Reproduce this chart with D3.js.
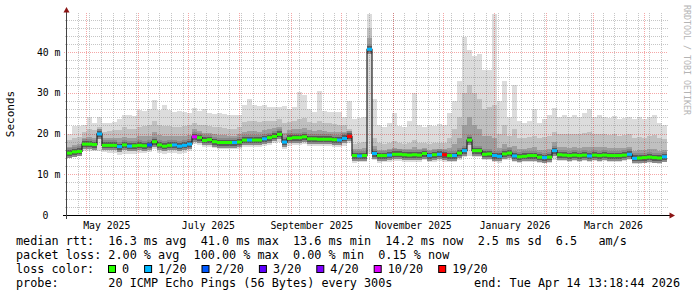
<!DOCTYPE html>
<html>
<head>
<meta charset="utf-8">
<script src="https://cdn.jsdelivr.net/npm/d3@7"></script>
<style>
  body { margin: 0; background: #fff; }
  svg { display: block; }
  text { font-family: "DejaVu Sans Mono", monospace; fill: #000; }
</style>
</head>
<body>
<svg id="chart" width="697" height="297"></svg>
<script>
// smokeping year view, one column per 3 days
const DAY = 864e5;
const tEnd = Date.UTC(2026, 3, 14, 13, 18, 44);
const tStart = tEnd - 360 * DAY;
const stepDays = 3;

// median rtt (ms)
const median = [
  15.2, 15.5, 15.6, 17.4, 17.4, 17.3, 19.9, 17.1, 17.1, 17.1,
  16.8, 17.2, 16.9, 17.0, 17.1, 17.0, 17.2, 18.0, 17.2, 16.9,
  17.1, 17.2, 16.9, 17.1, 17.4, 19.2, 19.0, 18.3, 18.5, 18.0,
  17.8, 17.8, 17.8, 17.8, 17.9, 18.4, 18.4, 18.4, 18.4, 18.7,
  19.0, 19.3, 19.8, 17.9, 18.8, 19.0, 19.0, 19.2, 18.7, 18.7,
  18.6, 18.6, 18.6, 18.5, 18.4, 18.8, 19.3, 14.6, 14.5, 14.6,
  40.7, 15.1, 14.6, 14.6, 14.7, 14.9, 14.9, 14.8, 14.7, 14.8,
  14.7, 15.1, 14.6, 14.8, 14.9, 14.8, 14.6, 14.6, 15.2, 15.8,
  18.4, 15.8, 15.8, 14.9, 15.0, 14.6, 14.4, 15.0, 15.2, 14.5,
  14.3, 14.4, 14.6, 14.6, 14.2, 14.1, 14.2, 15.8, 14.8, 14.7,
  14.6, 14.7, 14.6, 14.7, 14.5, 14.7, 14.6, 14.7, 14.6, 14.6,
  14.6, 14.7, 14.9, 13.9, 14.0, 14.1, 14.2, 14.1, 14.0, 14.3
];

// lost pings out of 20
const lossCount = [
  0, 0, 0, 0, 0, 0, 1, 0, 0, 0,
  1, 0, 1, 0, 0, 0, 2, 0, 0, 0,
  0, 1, 1, 1, 1, 10, 0, 0, 0, 0,
  0, 0, 0, 1, 0, 0, 1, 0, 0, 1,
  0, 0, 0, 1, 0, 0, 0, 0, 0, 0,
  0, 0, 0, 0, 1, 1, 19, 0, 1, 0,
  1, 1, 0, 0, 1, 0, 0, 0, 0, 0,
  0, 0, 1, 0, 1, 19, 0, 1, 0, 1,
  0, 0, 0, 0, 0, 1, 1, 0, 0, 1,
  0, 0, 0, 0, 0, 1, 0, 1, 0, 0,
  0, 0, 0, 0, 1, 0, 0, 0, 0, 0,
  0, 0, 1, 1, 0, 0, 0, 0, 0, 1
];

// fastest ping
const pingMin = [
  14.0, 14.2, 14.4, 15.6, 15.6, 15.6, 15.8, 15.4, 15.3, 15.2,
  14.8, 15.0, 15.0, 15.0, 15.2, 15.2, 15.4, 16.2, 15.3, 15.0,
  15.2, 15.3, 15.0, 15.2, 15.6, 17.4, 17.2, 16.6, 16.8, 16.4,
  16.2, 16.2, 16.2, 16.2, 16.3, 16.8, 16.8, 16.8, 16.8, 17.0,
  17.3, 17.6, 18.0, 16.2, 17.0, 17.2, 17.2, 17.4, 17.0, 17.0,
  16.9, 16.9, 16.9, 16.8, 16.7, 17.0, 17.8, 12.8, 12.9, 13.0,
  15.0, 13.4, 12.8, 12.9, 13.0, 13.2, 13.2, 13.1, 13.0, 13.1,
  13.0, 13.4, 13.0, 13.1, 13.2, 13.1, 13.0, 13.0, 13.6, 14.2,
  14.4, 14.2, 14.2, 13.4, 13.4, 13.0, 12.8, 13.4, 13.6, 12.9,
  12.8, 12.9, 13.1, 13.1, 12.8, 12.7, 12.8, 13.6, 13.3, 13.2,
  13.1, 13.2, 13.1, 13.2, 13.0, 13.2, 13.1, 13.2, 13.1, 13.1,
  13.1, 13.2, 13.4, 12.6, 12.6, 12.8, 12.8, 12.7, 12.6, 12.9
];

// upper quartile
const ping75 = [
  16.8, 17.2, 17.4, 19.0, 19.2, 19.0, 20.5, 18.8, 18.8, 18.9,
  18.8, 19.2, 19.0, 19.0, 19.3, 19.3, 19.5, 20.3, 19.6, 19.3,
  19.4, 19.5, 19.3, 19.5, 19.6, 21.0, 20.6, 20.2, 20.2, 19.8,
  19.6, 19.6, 19.5, 19.5, 19.8, 20.5, 20.6, 20.6, 20.5, 20.8,
  21.0, 21.3, 21.6, 20.2, 20.8, 21.0, 21.2, 21.4, 20.8, 20.6,
  20.8, 20.6, 20.5, 20.4, 20.3, 20.5, 20.0, 16.2, 16.2, 16.4,
  43.5, 17.0, 16.0, 16.0, 16.2, 16.4, 16.2, 16.1, 16.2, 16.6,
  16.1, 16.4, 16.0, 16.2, 16.3, 16.2, 16.5, 17.5, 19.0, 22.0,
  24.0, 22.0, 21.0, 19.5, 19.5, 19.0, 16.5, 17.5, 16.8, 17.0,
  16.2, 16.2, 16.4, 16.6, 16.0, 16.0, 16.2, 18.0, 16.6, 16.6,
  16.5, 16.6, 16.5, 16.7, 16.8, 16.6, 16.6, 16.6, 16.4, 16.5,
  16.4, 16.5, 16.8, 15.8, 16.0, 16.0, 16.2, 16.2, 15.8, 16.0
];

// 90th percentile
const ping90 = [
  18.5, 19.0, 19.2, 20.5, 21.0, 20.8, 21.5, 20.5, 20.6, 20.8,
  20.8, 21.5, 21.2, 21.0, 21.5, 21.8, 22.0, 23.0, 22.0, 21.8,
  21.8, 21.5, 21.6, 21.8, 22.0, 22.5, 22.2, 22.0, 21.8, 21.5,
  21.5, 21.3, 21.2, 21.0, 21.5, 22.8, 23.0, 23.0, 22.8, 23.2,
  23.0, 23.2, 23.5, 22.5, 22.8, 23.0, 23.5, 23.8, 22.8, 22.5,
  23.0, 22.5, 22.5, 22.4, 22.2, 22.0, 21.0, 17.5, 17.8, 18.0,
  46.0, 19.0, 17.6, 17.4, 17.8, 18.2, 17.6, 17.5, 17.8, 18.5,
  17.6, 17.8, 17.5, 17.6, 17.8, 17.8, 19.0, 21.0, 24.0, 30.0,
  32.0, 30.0, 28.5, 26.0, 26.5, 27.0, 20.0, 22.0, 19.5, 21.0,
  19.0, 19.0, 19.2, 19.5, 19.0, 19.2, 19.5, 20.5, 19.8, 20.0,
  19.8, 20.0, 19.8, 20.2, 20.5, 19.8, 20.0, 19.8, 19.6, 19.8,
  19.5, 19.6, 19.8, 19.0, 19.2, 19.0, 19.4, 19.6, 18.8, 18.6
];

// slowest ping
const pingMax = [
  20.0, 21.9, 21.8, 22.0, 24.0, 22.5, 24.0, 22.6, 22.7, 22.8,
  23.5, 24.6, 24.6, 24.2, 25.8, 25.5, 26.0, 28.2, 25.8, 27.0,
  25.8, 25.4, 25.6, 25.4, 25.0, 26.2, 25.5, 26.0, 25.0, 24.8,
  25.0, 24.8, 24.6, 24.6, 24.6, 27.0, 28.5, 27.0, 26.8, 27.0,
  26.6, 26.6, 26.4, 26.8, 26.0, 26.6, 30.3, 29.5, 26.0, 25.4,
  30.5, 25.6, 25.4, 25.2, 25.4, 24.0, 28.0, 23.5, 23.8, 24.0,
  49.3, 28.5, 22.0, 21.6, 22.5, 25.0, 21.8, 21.6, 23.0, 30.0,
  22.0, 21.6, 22.0, 21.8, 22.4, 22.0, 25.0, 28.0, 33.0, 43.8,
  40.5, 39.0, 39.5, 35.5, 35.5, 49.3, 28.0, 33.0, 24.0, 32.0,
  23.0, 22.5, 23.0, 26.0, 22.5, 23.5, 24.5, 26.3, 24.0, 24.5,
  24.0, 24.5, 24.0, 25.0, 26.0, 24.0, 24.5, 24.0, 23.8, 24.2,
  23.6, 23.8, 24.0, 23.5, 24.0, 23.5, 24.0, 24.5, 22.5, 22.0
];

const yTicks = [0, 10, 20, 30, 40];
const yTickLabels = ["0", "10 m", "20 m", "30 m", "40 m"];

const lossLevels = [0, 1, 2, 3, 4, 10, 19];
const lossLabels = ["0", "1/20", "2/20", "3/20", "4/20", "10/20", "19/20"];
const lossColors = ["#26ff00", "#00b8ff", "#0059ff", "#5e00ff", "#7e00ff", "#dd00ff", "#ff0000"];

const rttStats = ["16.3 ms avg", "41.0 ms max", "13.6 ms min", "14.2 ms now", "2.5 ms sd", "6.5   am/s"];
const lossStats = ["2.00 % avg", "100.00 % max", "0.00 % min", "0.15 % now"];
const probeText = "20 ICMP Echo Pings (56 Bytes) every 300s";
const endText = "end: Tue Apr 14 13:18:44 2026";

const svg = d3.select("#chart");
const x = d3.scaleUtc().domain([tStart, tEnd]).range([67, 667]);
const y = d3.scaleLinear().domain([0, 49.6]).range([215, 13]);
const lossColor = d3.scaleThreshold().domain(lossLevels.slice(1)).range(lossColors);

const cols = median.map((m, i) => ({
  t0: new Date(tStart + i * stepDays * DAY),
  t1: new Date(tStart + (i + 1) * stepDays * DAY),
  med: m, loss: lossCount[i], lo: pingMin[i], p75: ping75[i], p90: ping90[i], hi: pingMax[i]
}));

// smoke
const smoke = svg.append("g").attr("shape-rendering", "crispEdges");
const bands = [
  { lo: d => d.lo, hi: d => d.hi, color: "#dcdcdc" },
  { lo: d => d.med, hi: d => d.p90, color: "#c0c0c0" },
  { lo: d => d.med, hi: d => d.p75, color: "#9e9e9e" }
];
bands.forEach(b => {
  smoke.append("g").selectAll("rect").data(cols).join("rect")
    .attr("x", d => x(d.t0))
    .attr("width", d => x(d.t1) - x(d.t0))
    .attr("y", d => y(b.hi(d)))
    .attr("height", d => Math.max(0, y(b.lo(d)) - y(b.hi(d))))
    .attr("fill", b.color);
});
[[10, "#8a8a8a"], [6, "#5a5a5a"]].forEach(([h, c]) => {
  smoke.append("g").selectAll("rect").data(cols).join("rect")
    .attr("x", d => x(d.t0))
    .attr("width", d => x(d.t1) - x(d.t0))
    .attr("y", d => y(d.med) - h / 2)
    .attr("height", h)
    .attr("fill", c);
});

// grid
const grid = svg.append("g").attr("fill", "none").attr("stroke-dasharray", "1,1");
const minorY = d3.range(2, 49, 2).filter(v => v % 10 !== 0);
grid.selectAll(".hmin").data(minorY).join("line")
  .attr("x1", 65).attr("x2", 668)
  .attr("y1", d => Math.round(y(d)) + 0.5).attr("y2", d => Math.round(y(d)) + 0.5)
  .attr("stroke", "rgba(128,128,128,0.45)");
grid.selectAll(".vmin").data(d3.utcSaturday.range(new Date(tStart), new Date(tEnd))).join("line")
  .attr("x1", d => Math.round(x(d)) + 0.5).attr("x2", d => Math.round(x(d)) + 0.5)
  .attr("y1", 13).attr("y2", 217)
  .attr("stroke", "rgba(128,128,128,0.45)");
grid.selectAll(".hmaj").data(yTicks.slice(1)).join("line")
  .attr("x1", 64).attr("x2", 668)
  .attr("y1", d => Math.round(y(d)) + 0.5).attr("y2", d => Math.round(y(d)) + 0.5)
  .attr("stroke", "rgba(225,0,0,0.35)");
grid.selectAll(".vmaj").data(d3.utcMonth.range(new Date(tStart), new Date(tEnd))).join("line")
  .attr("x1", d => Math.round(x(d)) + 0.5).attr("x2", d => Math.round(x(d)) + 0.5)
  .attr("y1", 13).attr("y2", 217)
  .attr("stroke", "rgba(225,0,0,0.35)");

// median: dark step line, then loss-coloured pieces
const pts = cols.map(d => [d.t0, d.med]);
pts.push([cols[cols.length - 1].t1, cols[cols.length - 1].med]);
svg.append("path")
  .attr("d", d3.line().x(d => x(d[0])).y(d => y(d[1])).curve(d3.curveStepAfter)(pts))
  .attr("fill", "none").attr("stroke", "#202020").attr("stroke-width", 1.2);
svg.append("g").selectAll("line").data(cols).join("line")
  .attr("x1", d => x(d.t0)).attr("x2", d => x(d.t1))
  .attr("y1", d => y(d.med)).attr("y2", d => y(d.med))
  .attr("stroke", d => lossColor(d.loss)).attr("stroke-width", 3);

// axes
svg.append("line").attr("x1", 63).attr("x2", 670).attr("y1", 215.5).attr("y2", 215.5)
  .attr("stroke", "#000");
svg.append("line").attr("x1", 66.5).attr("x2", 66.5).attr("y1", 219).attr("y2", 12)
  .attr("stroke", "#444");
svg.append("path").attr("d", "M63.5,12.5L66.5,7L69.5,12.5Z").attr("fill", "#8b1414");
svg.append("path").attr("d", "M669.5,212.5L675,215.5L669.5,218.5Z").attr("fill", "#8b1414");

svg.append("g").selectAll("text").data(yTicks).join("text")
  .attr("x", d => d === 0 ? 48.5 : 60.5)
  .attr("y", d => y(d) + 3.5)
  .attr("text-anchor", "end")
  .style("font-size", "9.8px")
  .text((d, i) => yTickLabels[i]);

const monthFmt = d3.utcFormat("%B %Y");
svg.append("g").selectAll("text")
  .data(d3.utcMonth.every(2).range(new Date(tStart), new Date(tEnd)))
  .join("text")
  .attr("x", d => x(new Date(+d + 12.4 * DAY)))
  .attr("y", 228.5)
  .attr("text-anchor", "middle")
  .style("font-size", "9.8px")
  .text(d => monthFmt(d));

svg.append("text")
  .attr("transform", "translate(14,114) rotate(-90)")
  .attr("text-anchor", "middle")
  .style("font-size", "11px")
  .text("Seconds");

svg.append("text")
  .attr("transform", "translate(684,5) rotate(90)")
  .style("font-size", "8.3px")
  .style("fill", "#b4b4b4")
  .text("RRDTOOL / TOBI OETIKER");

// legend
const leg = svg.append("g").style("font-size", "11.8px");
const row = (yy, str) => leg.append("text").attr("x", 16).attr("y", yy)
  .attr("xml:space", "preserve").style("white-space", "pre").text(str);
row(244.5, "median rtt:  " + rttStats.join("  "));
row(258.5, "packet loss: " + lossStats.join("  "));
row(272.5, "loss color:");
row(286.5, "probe:       " + probeText);
leg.append("text").attr("x", 680).attr("y", 286.5).attr("text-anchor", "end")
  .attr("xml:space", "preserve").style("white-space", "pre").text(endText);

let cx = 108.5;
lossLabels.forEach((lab, i) => {
  leg.append("rect").attr("x", cx).attr("y", 265.5).attr("width", 7).attr("height", 7)
    .attr("fill", lossColors[i]).attr("stroke", "#000");
  leg.append("text").attr("x", cx + 13.5).attr("y", 272.5).text(lab);
  cx += 13.5 + lab.length * 7.1 + 15.5;
});
</script>
</body>
</html>
